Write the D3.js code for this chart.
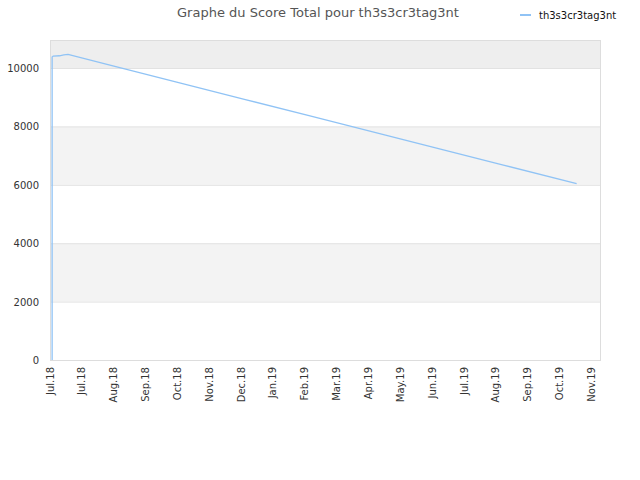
<!DOCTYPE html>
<html>
<head>
<meta charset="utf-8">
<script src="https://cdn.jsdelivr.net/npm/d3@7"></script>
<style>
body { margin: 0; background: #fff; }
text { font-family: "DejaVu Sans", sans-serif; }
</style>
</head>
<body>
<div id="chart"></div>
<script>
var seriesName = "th3s3cr3tag3nt";
var dates = ["2018-07-03", "2018-07-03", "2018-07-04", "2018-07-10", "2018-07-14", "2018-07-18",
	"2018-09-01", "2018-11-01", "2019-01-01", "2019-03-01", "2019-05-01", "2019-07-01",
	"2019-09-01", "2019-11-09"];
var scores = [0, 10380, 10410, 10420, 10450, 10465,
	10045, 9485, 8920, 8375, 7810, 7245, 6675, 6040];
var tickDates = ["2018-07-01", "2018-07-31", "2018-08-30", "2018-09-29", "2018-10-29", "2018-11-28",
	"2018-12-28", "2019-01-27", "2019-02-26", "2019-03-28", "2019-04-27", "2019-05-27",
	"2019-06-26", "2019-07-26", "2019-08-25", "2019-09-24", "2019-10-24", "2019-11-23"];
var tickLabels = ["Jul.18", "Jul.18", "Aug.18", "Sep.18", "Oct.18", "Nov.18", "Dec.18", "Jan.19",
	"Feb.19", "Mar.19", "Apr.19", "May.19", "Jun.19", "Jul.19", "Aug.19", "Sep.19", "Oct.19", "Nov.19"];
var yTicks = [0, 2000, 4000, 6000, 8000, 10000];

(function () {
	var width = 640, height = 480;
	var left = 50, right = 600, top = 40, bottom = 360;
	var parse = d3.timeParse("%Y-%m-%d");
	var lineColor = "#90c3f5";

	var svg = d3.select("#chart").append("svg")
		.attr("width", width).attr("height", height);

	var x = d3.scaleTime()
		.domain([parse("2018-07-01"), parse("2019-12-01")])
		.range([left, right]);
	var y = d3.scaleLinear().domain([0, 10960]).range([bottom, top]);

	// alternating bands
	var bands = [];
	for (var i = 0; i < yTicks.length; i++) {
		bands.push([yTicks[i], i + 1 < yTicks.length ? yTicks[i + 1] : y.domain()[1]]);
	}
	svg.selectAll(".band").data(bands).enter().append("rect")
		.attr("class", "band")
		.attr("x", left)
		.attr("width", right - left)
		.attr("y", function (d) { return y(d[1]); })
		.attr("height", function (d) { return y(d[0]) - y(d[1]); })
		.attr("fill", function (d, i) { return i % 2 ? (i == bands.length - 1 ? "#eeeeee" : "#f3f3f3") : "#ffffff"; });

	svg.selectAll(".grid").data(yTicks).enter().append("line")
		.attr("x1", left).attr("x2", right)
		.attr("y1", function (d) { return y(d) + 0.5; })
		.attr("y2", function (d) { return y(d) + 0.5; })
		.attr("stroke", "#e2e2e2");

	svg.append("rect")
		.attr("x", left + 0.5).attr("y", top + 0.5)
		.attr("width", right - left).attr("height", bottom - top)
		.attr("fill", "none").attr("stroke", "#dddddd");

	// y axis labels
	svg.selectAll(".ylab").data(yTicks).enter().append("text")
		.attr("x", 39).attr("y", function (d) { return y(d) + 4; })
		.attr("text-anchor", "end")
		.attr("font-size", 10).attr("fill", "#333")
		.text(function (d) { return d; });

	// x axis labels
	var xt = tickDates.map(function (d, i) { return { d: parse(d), l: tickLabels[i] }; });
	svg.selectAll(".xlab").data(xt).enter().append("text")
		.attr("transform", function (d) { return "translate(" + (x(d.d) + 3.5) + ",367) rotate(-90)"; })
		.attr("text-anchor", "end")
		.attr("font-size", 10).attr("fill", "#333")
		.text(function (d) { return d.l; });

	var pts = dates.map(function (d, i) { return { d: parse(d), v: scores[i] }; });
	var line = d3.line()
		.x(function (d) { return x(d.d); })
		.y(function (d) { return y(d.v); });
	svg.append("path").datum(pts)
		.attr("d", line)
		.attr("fill", "none")
		.attr("stroke", lineColor)
		.attr("stroke-width", 1.3);

	// title
	svg.append("text")
		.attr("x", 318).attr("y", 17)
		.attr("text-anchor", "middle")
		.attr("font-size", 13).attr("fill", "#555")
		.text("Graphe du Score Total pour " + seriesName);

	// legend
	svg.append("line")
		.attr("x1", 520).attr("x2", 531).attr("y1", 15).attr("y2", 15)
		.attr("stroke", lineColor).attr("stroke-width", 2);
	svg.append("text")
		.attr("x", 539).attr("y", 18.5)
		.attr("font-size", 10).attr("fill", "#111")
		.text(seriesName);
})();
</script>
</body>
</html>
